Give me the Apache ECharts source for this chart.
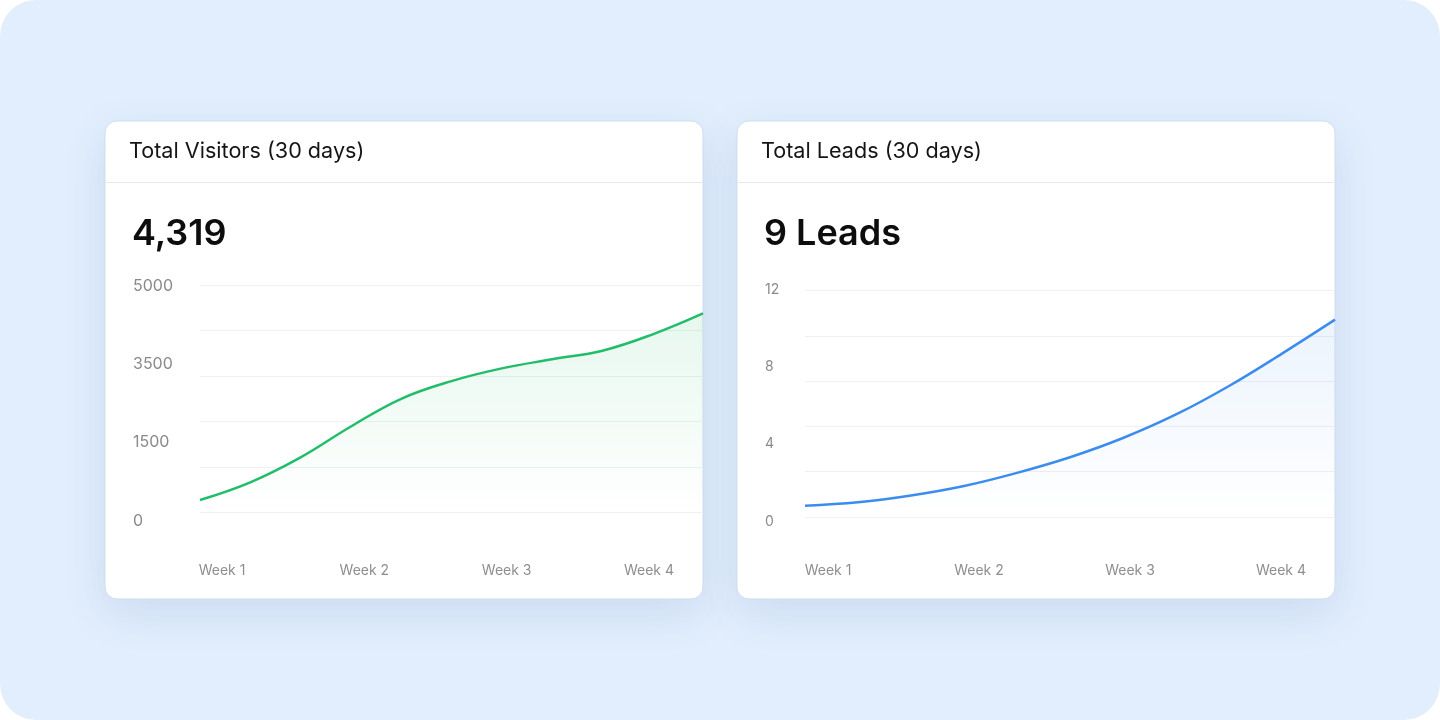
<!DOCTYPE html>
<html>
<head>
<meta charset="utf-8">
<script src="https://cdn.jsdelivr.net/npm/echarts@6/dist/echarts.min.js"></script>
<style>
  html, body { margin: 0; padding: 0; background: #ffffff; }
  #chart { width: 1440px; height: 720px; }
</style>
</head>
<body>
<div id="chart"></div>
<script>
// ---- Data ----
const sampleDays = ['Day 1','Day 4','Day 7','Day 10','Day 13','Day 16','Day 19','Day 22','Day 25','Day 28','Day 30'];
const weekLabels = ['Week 1', 'Week 2', 'Week 3', 'Week 4'];
const visitorValues = [270, 660, 1210, 1890, 2500, 2890, 3170, 3370, 3560, 3920, 4380];
const leadValues = [0.5, 0.65, 0.95, 1.37, 1.95, 2.64, 3.49, 4.53, 5.79, 7.22, 8.72];
const visitorTickLabels = ['0', '1500', '3500', '5000'];
const leadTickLabels = ['0', '4', '8', '12'];
const visitorTitle = 'Total Visitors (30 days)';
const leadTitle = 'Total Leads (30 days)';
const visitorTotal = '4,319';
const leadTotal = '9 Leads';

const FONT = 'Inter, "Noto Sans", sans-serif';
const chart = echarts.init(document.getElementById('chart'));

function card(x, title, total) {
  return [
    { type: 'rect', shape: { x: x, y: 121, width: 598, height: 478, r: 12 },
      style: { fill: '#ffffff', stroke: 'rgba(205,218,236,0.9)', lineWidth: 1,
               shadowBlur: 44, shadowOffsetY: 14, shadowColor: 'rgba(40,80,150,0.12)' } },
    { type: 'line', shape: { x1: x, y1: 182.5, x2: x + 598, y2: 182.5 },
      style: { stroke: '#e5e9ef', lineWidth: 1 } },
    { type: 'text', x: x + 24, y: 151.5,
      style: { text: title, font: '400 21.6px ' + FONT, fill: '#151515', verticalAlign: 'middle' } },
    { type: 'text', x: x + 27, y: 234,
      style: { text: total, font: '600 36px ' + FONT, fill: '#0d0d0d', verticalAlign: 'middle' } }
  ];
}

const labelStyle = (size, color) => ({ fontFamily: FONT, fontSize: size, color: color });

chart.setOption({
  animation: false,
  graphic: [
    { type: 'rect', shape: { x: 0, y: 0, width: 1440, height: 720, r: 36 }, style: { fill: '#e2eefd' } },
    ...card(105, visitorTitle, visitorTotal),
    ...card(737, leadTitle, leadTotal)
  ],
  grid: [
    // Visitors: plot, tick labels, week labels
    { left: 200, right: 737, top: 285.3, bottom: 207.7 },
    { left: 133, width: 10, top: 286, bottom: 199 },
    { left: 222, right: 791, top: 300, bottom: 157 },
    // Leads: plot, tick labels, week labels
    { left: 805, right: 105, top: 290.7, bottom: 203 },
    { left: 765, width: 10, top: 289.5, bottom: 198.5 },
    { left: 828, right: 159, top: 300, bottom: 157 }
  ],
  xAxis: [
    { gridIndex: 0, type: 'category', data: sampleDays, boundaryGap: false, show: false },
    { gridIndex: 1, type: 'value', show: false },
    { gridIndex: 2, type: 'category', data: weekLabels, boundaryGap: false,
      axisLine: { show: false }, axisTick: { show: false },
      axisLabel: { ...labelStyle(14, '#8e8e8e'), margin: 1 } },
    { gridIndex: 3, type: 'category', data: sampleDays, boundaryGap: false, show: false },
    { gridIndex: 4, type: 'value', show: false },
    { gridIndex: 5, type: 'category', data: weekLabels, boundaryGap: false,
      axisLine: { show: false }, axisTick: { show: false },
      axisLabel: { ...labelStyle(14, '#8e8e8e'), margin: 1 } }
  ],
  yAxis: [
    { gridIndex: 0, type: 'value', min: 0, max: 5000, interval: 1000,
      axisLabel: { show: false }, axisLine: { show: false }, axisTick: { show: false },
      splitLine: { lineStyle: { color: '#eef0f3', width: 1 } } },
    { gridIndex: 1, type: 'category', data: visitorTickLabels, boundaryGap: false,
      axisLine: { show: false }, axisTick: { show: false }, splitLine: { show: false },
      axisLabel: { ...labelStyle(16, '#8a8a8a'), align: 'left', margin: 0 } },
    { gridIndex: 2, type: 'value', show: false },
    { gridIndex: 3, type: 'value', min: 0, max: 10, interval: 2,
      axisLabel: { show: false }, axisLine: { show: false }, axisTick: { show: false },
      splitLine: { lineStyle: { color: '#eef0f3', width: 1 } } },
    { gridIndex: 4, type: 'category', data: leadTickLabels, boundaryGap: false,
      axisLine: { show: false }, axisTick: { show: false }, splitLine: { show: false },
      axisLabel: { ...labelStyle(14, '#8a8a8a'), align: 'left', margin: 0 } },
    { gridIndex: 5, type: 'value', show: false }
  ],
  series: [
    { type: 'line', name: 'Visitors', xAxisIndex: 0, yAxisIndex: 0, data: visitorValues,
      smooth: 0.4, symbol: 'none',
      lineStyle: { color: '#22bd6a', width: 2.5 },
      areaStyle: { color: new echarts.graphic.LinearGradient(0, 0, 0, 1, [
        { offset: 0, color: 'rgba(34,189,106,0.16)' },
        { offset: 1, color: 'rgba(34,189,106,0)' }
      ]) } },
    { type: 'line', name: 'Leads', xAxisIndex: 3, yAxisIndex: 3, data: leadValues,
      smooth: 0.4, symbol: 'none',
      lineStyle: { color: '#3b8cef', width: 2.5 },
      areaStyle: { color: new echarts.graphic.LinearGradient(0, 0, 0, 1, [
        { offset: 0, color: 'rgba(59,140,239,0.14)' },
        { offset: 1, color: 'rgba(59,140,239,0)' }
      ]) } }
  ]
});
</script>
</body>
</html>
